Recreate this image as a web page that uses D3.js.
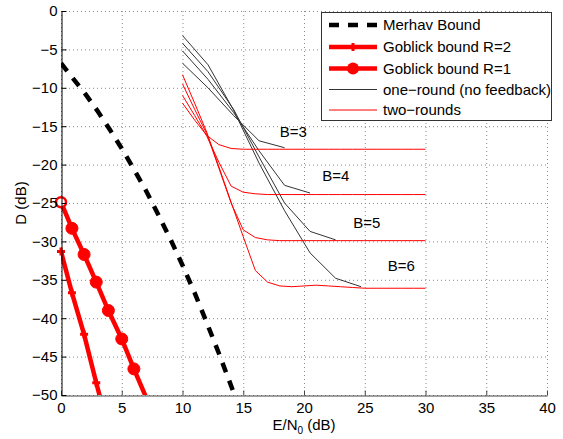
<!DOCTYPE html>
<html lang="en">
<head>
<meta charset="utf-8">
<title>D vs E/N0</title>
<script src="https://cdn.jsdelivr.net/npm/d3@7"></script>
<style>
  body { margin: 0; background: #fff; }
  text { font-family: "Liberation Sans", Arial, sans-serif; font-size: 15px; fill: #000; }
  .axis text { font-size: 15px; }
  .grid line { stroke: #8a8a8a; stroke-width: 1; stroke-dasharray: 1,3; }
</style>
</head>
<body>
<div id="chart"></div>
<script>
// ticks
var xTicks = [0, 5, 10, 15, 20, 25, 30, 35, 40];
var yTicks = [0, -5, -10, -15, -20, -25, -30, -35, -40, -45, -50];

// Merhav bound (dashed black)
var merhavSnr = [0, 1, 2, 3, 4, 5, 6, 7, 8, 9, 10, 11, 12, 13, 14, 15];
var merhavD   = [-6.8, -8.8, -10.8, -13.0, -15.4, -17.9, -20.6, -23.4, -26.5, -29.7, -33.1, -36.7, -40.6, -44.6, -48.8, -53.1];

// Goblick bounds
var goblickR2Snr = [0, 0.9, 1.9, 2.9, 3.5];
var goblickR2D   = [-31.3, -36.7, -42.1, -48.4, -52.0];
var goblickR1Snr = [0, 0.9, 1.9, 2.9, 3.9, 5, 6, 7];
var goblickR1D   = [-24.9, -28.3, -31.7, -35.3, -39.0, -42.7, -46.6, -50.3];

// one-round (no feedback), thin black
var oneRoundSnr = [10, 12.1, 14.2, 16.3, 18.4, 20.5, 22.6, 24.7];
var oneRoundB3 = [-6.8, -10.0, -13.6, -16.9, -17.8];
var oneRoundB4 = [-5.2, -8.9, -13.2, -18.2, -22.7, -23.7];
var oneRoundB5 = [-4.2, -7.9, -12.8, -19.0, -25.0, -28.7, -29.8];
var oneRoundB6 = [-3.2, -7.0, -12.9, -19.8, -26.0, -31.5, -34.8, -35.9];

// two-rounds, thin red
var twoRoundSnr = [10, 11, 12, 13, 14, 15, 16, 17, 18, 19, 20, 21, 22, 23, 24, 25, 26, 27, 28, 29, 30];
var twoRoundB3 = [-12.0, -14.2, -16.2, -17.4, -17.9, -18.0, -18.0, -18.0, -18.0, -18.0, -18.0, -18.0, -18.0, -18.0, -18.0, -18.0, -18.0, -18.0, -18.0, -18.0, -18.0];
var twoRoundB4 = [-11.0, -13.6, -16.3, -19.7, -22.8, -23.6, -23.8, -23.9, -23.9, -23.9, -23.9, -23.9, -23.9, -23.9, -23.9, -23.9, -23.9, -23.9, -23.9, -23.9, -23.9];
var twoRoundB5 = [-9.5, -12.8, -16.0, -20.5, -25.0, -28.5, -29.5, -29.8, -29.9, -29.9, -29.9, -29.9, -29.9, -29.9, -29.9, -29.9, -29.9, -29.9, -29.9, -29.9, -29.9];
var twoRoundB6 = [-8.3, -12.0, -15.8, -20.3, -24.9, -29.4, -33.8, -35.3, -35.8, -35.9, -35.8, -35.7, -35.8, -35.9, -36.0, -36.1, -36.1, -36.1, -36.1, -36.1, -36.1];

// B labels (data coords of label start)
var bLabels = ["B=3", "B=4", "B=5", "B=6"];
var bLabelSnr = [18.0, 21.5, 24.05, 26.9];
var bLabelD = [-16.4, -22.2, -28.2, -33.9];

var legendNames = ["Merhav Bound", "Goblick bound R=2", "Goblick bound R=1", "one\u2212round (no feedback)", "two\u2212rounds"];

var w = 563, h = 439;
var pL = 61, pR = 547, pT = 11, pB = 395;

var svg = d3.select("#chart").append("svg")
    .attr("width", w)
    .attr("height", h);

var xScale = d3.scaleLinear().domain([0, 40]).range([pL, pR]);
var yScale = d3.scaleLinear().domain([-50, 0]).range([pB, pT]);

// grid
var grid = svg.append("g").attr("class", "grid");
grid.selectAll("line.gx").data(xTicks).enter().append("line")
    .attr("class", "gx")
    .attr("x1", function(d) { return xScale(d) + 0.5; })
    .attr("x2", function(d) { return xScale(d) + 0.5; })
    .attr("y1", pT).attr("y2", pB);
grid.selectAll("line.gy").data(yTicks).enter().append("line")
    .attr("class", "gy")
    .attr("y1", function(d) { return yScale(d) + 0.5; })
    .attr("y2", function(d) { return yScale(d) + 0.5; })
    .attr("x1", pL).attr("x2", pR);

svg.append("clipPath").attr("id", "plotclip")
  .append("rect").attr("x", pL).attr("y", pT).attr("width", pR - pL).attr("height", pB - pT);

var plot = svg.append("g").attr("clip-path", "url(#plotclip)");

function pts(xs, ys) {
    return ys.map(function(v, i) { return [xs[i], v]; });
}
var line = d3.line()
    .x(function(d) { return xScale(d[0]); })
    .y(function(d) { return yScale(d[1]); });

// thin curves
[oneRoundB3, oneRoundB4, oneRoundB5, oneRoundB6].forEach(function(s) {
    plot.append("path").attr("d", line(pts(oneRoundSnr, s)))
        .attr("fill", "none").attr("stroke", "#333").attr("stroke-width", 1);
});
[twoRoundB3, twoRoundB4, twoRoundB5, twoRoundB6].forEach(function(s) {
    plot.append("path").attr("d", line(pts(twoRoundSnr, s)))
        .attr("fill", "none").attr("stroke", "#ff0000").attr("stroke-width", 1);
});

// Merhav
plot.append("path").attr("d", line(pts(merhavSnr, merhavD)))
    .attr("fill", "none").attr("stroke", "#000").attr("stroke-width", 4.5)
    .attr("stroke-dasharray", "10,9");

// Goblick lines
plot.append("path").attr("d", line(pts(goblickR2Snr, goblickR2D)))
    .attr("fill", "none").attr("stroke", "#ff0000").attr("stroke-width", 4.5);
plot.append("path").attr("d", line(pts(goblickR1Snr, goblickR1D)))
    .attr("fill", "none").attr("stroke", "#ff0000").attr("stroke-width", 4.5);

function plusMarker(g, cx, cy) {
    g.append("path")
     .attr("d", "M" + (cx - 4) + "," + cy + "H" + (cx + 4) + "M" + cx + "," + (cy - 4) + "V" + (cy + 4))
     .attr("stroke", "#ff0000").attr("stroke-width", 3).attr("fill", "none");
}

var markers = svg.append("g");
pts(goblickR2Snr, goblickR2D).filter(function(d) { return d[1] >= -50; }).forEach(function(d) {
    plusMarker(markers, xScale(d[0]), yScale(d[1]));
});
markers.selectAll("circle")
    .data(pts(goblickR1Snr, goblickR1D).filter(function(d) { return d[1] >= -50; }))
    .enter().append("circle")
    .attr("cx", function(d) { return xScale(d[0]); })
    .attr("cy", function(d) { return yScale(d[1]); })
    .attr("r", function(d, i) { return i === 0 ? 5 : 6; })
    .attr("fill", function(d, i) { return i === 0 ? "#fff" : "#ff0000"; })
    .attr("stroke", "#ff0000")
    .attr("stroke-width", function(d, i) { return i === 0 ? 2.5 : 1; });

// B labels
svg.selectAll("text.blab").data(bLabels).enter().append("text")
    .attr("class", "blab")
    .attr("x", function(d, i) { return xScale(bLabelSnr[i]); })
    .attr("y", function(d, i) { return yScale(bLabelD[i]); })
    .text(function(d) { return d; });

// axes
var xAxis = d3.axisBottom(xScale).tickValues(xTicks).tickSizeInner(-5).tickSizeOuter(0).tickPadding(7);
var yAxis = d3.axisLeft(yScale).tickValues(yTicks).tickSizeInner(-5).tickSizeOuter(0).tickPadding(4);

var gx = svg.append("g").attr("class", "axis")
    .attr("transform", "translate(0," + (pB + 0.5) + ")")
    .call(xAxis);
gx.select(".domain").attr("stroke", "#444");
gx.selectAll(".tick line").attr("stroke", "#444");
gx.attr("font-family", null).attr("font-size", null);

var gy = svg.append("g").attr("class", "axis")
    .attr("transform", "translate(" + (pL + 0.5) + ",0)")
    .call(yAxis);
gy.select(".domain").attr("stroke", "#000");
gy.attr("font-family", null).attr("font-size", null);

// axis titles
var xt = svg.append("text").attr("x", (pL + pR) / 2).attr("y", 430)
    .attr("text-anchor", "middle");
xt.append("tspan").text("E/N");
xt.append("tspan").attr("dy", 4).style("font-size", "10px").text("0");
xt.append("tspan").attr("dy", -4).text(" (dB)");

svg.append("text")
    .attr("transform", "translate(26," + ((pT + pB) / 2) + ") rotate(-90)")
    .attr("text-anchor", "middle")
    .text("D (dB)");

// legend
var lg = svg.append("g");
lg.append("rect").attr("x", 321.5).attr("y", 12.5).attr("width", 230).attr("height", 108)
    .attr("fill", "#fff").attr("stroke", "#333").attr("stroke-width", 1);
var rowY = [25, 47, 68.5, 89.5, 110];
var lx1 = 329, lx2 = 377;
legendNames.forEach(function(name, i) {
    var y = rowY[i];
    var l = lg.append("line").attr("x1", lx1).attr("x2", lx2).attr("y1", y).attr("y2", y);
    if (i === 0) {
        l.attr("stroke", "#000").attr("stroke-width", 4.5).attr("stroke-dasharray", "10,9");
    } else if (i === 1 || i === 2) {
        l.attr("stroke", "#ff0000").attr("stroke-width", 4.5);
    } else if (i === 3) {
        l.attr("stroke", "#333").attr("stroke-width", 1);
    } else {
        l.attr("stroke", "#ff0000").attr("stroke-width", 1);
    }
    if (i === 1) plusMarker(lg, (lx1 + lx2) / 2, y);
    if (i === 2) lg.append("circle").attr("cx", (lx1 + lx2) / 2).attr("cy", y).attr("r", 6).attr("fill", "#ff0000");
    lg.append("text").attr("x", 383).attr("y", y + 5).text(name);
});
</script>
</body>
</html>
